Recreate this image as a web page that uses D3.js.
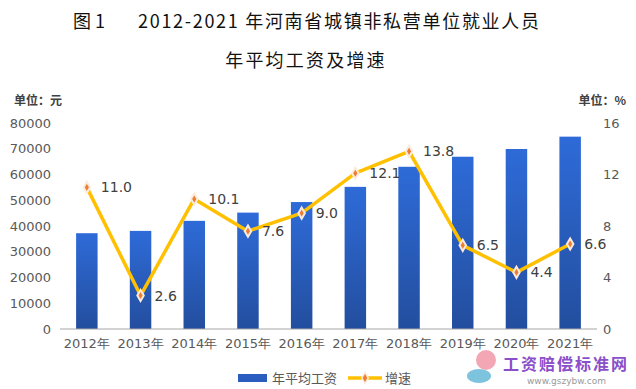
<!DOCTYPE html>
<html>
<head>
<meta charset="utf-8">
<script src="https://cdn.jsdelivr.net/npm/d3@7"></script>
<style>
  body { margin: 0; background: #fff; }
  svg { display: block; font-family: "DejaVu Sans", sans-serif; }
</style>
</head>
<body>
<svg id="chart" width="636" height="389"></svg>
<script>
// data
var years = ['2012年', '2013年', '2014年', '2015年', '2016年', '2017年', '2018年', '2019年', '2020年', '2021年']
var wages = [37200, 38100, 42000, 45200, 49300, 55200, 63000, 66900, 69900, 74700]
var growth = [11.0, 2.6, 10.1, 7.6, 9.0, 12.1, 13.8, 6.5, 4.4, 6.6]
var leftTicks = [0, 10000, 20000, 30000, 40000, 50000, 60000, 70000, 80000]
var rightTicks = [0, 4, 8, 12, 16]

const svg = d3.select('#chart')
const cjk = '"Noto Sans CJK SC", sans-serif'

// plot area
const plotL = 60, plotR = 597, plotT = 123, plotB = 329

const x = d3.scaleBand().domain(years).range([plotL, plotR]).paddingInner(0.6).paddingOuter(0.3)
const yL = d3.scaleLinear().domain([0, 80000]).range([plotB, plotT])
const yR = d3.scaleLinear().domain([0, 16]).range([plotB, plotT])

// gradient for bars
const defs = svg.append('defs')
const grad = defs.append('linearGradient').attr('id', 'barGrad')
    .attr('x1', 0).attr('y1', 0).attr('x2', 0).attr('y2', 1)
grad.append('stop').attr('offset', '0%').attr('stop-color', '#2E6BD8')
grad.append('stop').attr('offset', '100%').attr('stop-color', '#234E9E')

// title
const title = svg.append('g').attr('font-family', cjk).attr('font-size', 18)
    .attr('font-weight', 'normal').attr('fill', '#111')
title.append('text').attr('x', 73).attr('y', 28).text('图 1')
title.append('text').attr('x', 138).attr('y', 28).attr('letter-spacing', 1.7)
    .text('2012-2021 年河南省城镇非私营单位就业人员')
title.append('text').attr('x', 306).attr('y', 67).attr('text-anchor', 'middle')
    .attr('letter-spacing', 2.2).text('年平均工资及增速')

// unit labels
svg.append('text').attr('x', 14).attr('y', 105).attr('font-family', cjk)
    .attr('font-size', 12).attr('font-weight', 'bold').attr('fill', '#404040').text('单位：元')
svg.append('text').attr('x', 626).attr('y', 105).attr('text-anchor', 'end').attr('font-family', cjk)
    .attr('font-size', 12).attr('font-weight', 'bold').attr('fill', '#404040').text('单位：%')

// left axis labels
svg.append('g').selectAll('text')
    .data(leftTicks)
    .enter()
    .append('text')
    .attr('x', 51)
    .attr('y', d => yL(d))
    .attr('dy', '0.36em')
    .attr('text-anchor', 'end')
    .attr('font-size', 13)
    .attr('fill', '#595959')
    .text(d => d)

// right axis labels
svg.append('g').selectAll('text')
    .data(rightTicks)
    .enter()
    .append('text')
    .attr('x', 603)
    .attr('y', d => yR(d))
    .attr('dy', '0.36em')
    .attr('font-size', 13)
    .attr('fill', '#595959')
    .text(d => d)

// bars
svg.append('g').selectAll('rect')
    .data(wages)
    .enter()
    .append('rect')
    .attr('x', (d, i) => x(years[i]))
    .attr('y', d => yL(d))
    .attr('width', x.bandwidth())
    .attr('height', d => plotB - yL(d))
    .attr('fill', 'url(#barGrad)')

// x axis line
svg.append('line').attr('x1', plotL).attr('x2', plotR).attr('y1', plotB).attr('y2', plotB)
    .attr('stroke', '#A6A6A6').attr('stroke-width', 1)

// x labels
svg.append('g').selectAll('text')
    .data(years)
    .enter()
    .append('text')
    .attr('x', d => x(d) + x.bandwidth() / 2)
    .attr('y', 348)
    .attr('text-anchor', 'middle')
    .attr('font-size', 13)
    .attr('fill', '#595959')
    .text(d => d)

// growth line
const cx = i => x(years[i]) + x.bandwidth() / 2
const line = d3.line().x((d, i) => cx(i)).y(d => yR(d))
svg.append('path').datum(growth)
    .attr('d', line)
    .attr('fill', 'none')
    .attr('stroke', '#FFC000')
    .attr('stroke-width', 3.5)
    .attr('stroke-linejoin', 'round')

// markers
const diamond = d3.symbol().type(d3.symbolDiamond).size(36)
svg.append('g').selectAll('path')
    .data(growth)
    .enter()
    .append('path')
    .attr('d', diamond)
    .attr('transform', (d, i) => 'translate(' + cx(i) + ',' + yR(d) + ')')
    .attr('fill', '#ED7D31')
    .attr('stroke', '#FBEBDD')
    .attr('stroke-width', 2)

// value labels
svg.append('g').selectAll('text')
    .data(growth)
    .enter()
    .append('text')
    .attr('x', (d, i) => cx(i) + 14)
    .attr('y', d => yR(d))
    .attr('dy', '0.36em')
    .attr('font-size', 14)
    .attr('fill', '#404040')
    .text(d => d.toFixed(1))

// legend
const legend = svg.append('g').attr('font-family', cjk).attr('font-size', 13).attr('fill', '#595959')
legend.append('rect').attr('x', 238).attr('y', 374).attr('width', 29).attr('height', 8).attr('fill', '#2A5DBF')
legend.append('text').attr('x', 272).attr('y', 383).text('年平均工资')
legend.append('line').attr('x1', 348).attr('x2', 382).attr('y1', 378).attr('y2', 378)
    .attr('stroke', '#FFC000').attr('stroke-width', 3.5)
legend.append('path').attr('d', diamond).attr('transform', 'translate(365,378)')
    .attr('fill', '#ED7D31').attr('stroke', '#FBEBDD').attr('stroke-width', 1.5)
legend.append('text').attr('x', 385).attr('y', 383).text('增速')

// watermark
const wm = svg.append('g')
wm.append('ellipse').attr('cx', 486).attr('cy', 360).attr('rx', 10).attr('ry', 10).attr('fill', '#F3A7B5')
wm.append('ellipse').attr('cx', 479).attr('cy', 376).attr('rx', 12).attr('ry', 7).attr('fill', '#7EC3DE')
wm.append('text').attr('x', 503).attr('y', 370).attr('font-family', cjk).attr('font-size', 16)
    .attr('font-weight', 'bold').attr('fill', '#8A4FC9').attr('letter-spacing', 2).text('工资赔偿标准网')
wm.append('text').attr('x', 527).attr('y', 384).attr('font-size', 9).attr('fill', '#9A9A9A').text('www.gszybw.com')
</script>
</body>
</html>
